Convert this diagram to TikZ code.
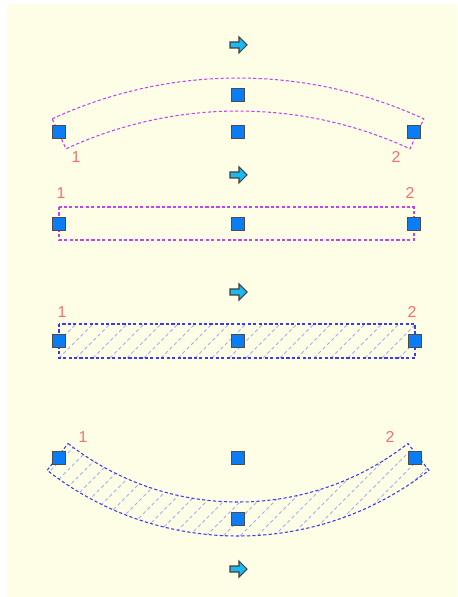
\documentclass[tikz,border=0pt]{standalone}
\usepackage{fontspec}
\setsansfont{Liberation Sans}
\definecolor{paper}{HTML}{FEFEE6}
\definecolor{gripblue}{HTML}{0A7CF5}
\definecolor{arrowcyan}{HTML}{1CB8F0}
\definecolor{lilac}{HTML}{C044F4}
\definecolor{wireblue}{HTML}{3A3AF0}
\definecolor{hatchblue}{HTML}{9CB0F4}
\definecolor{tagred}{HTML}{F47070}
\tikzset{
  grip/.style={draw=black!70, fill=gripblue, line width=0.7pt, minimum size=0.26cm, inner sep=0pt},
  outline/.style={line width=0.6pt, dash pattern=on 1.8pt off 1.3pt},
  hatchline/.style={hatchblue, line width=0.5pt, dash pattern=on 2pt off 1.5pt},
  tag/.style={text=tagred, font=\sffamily\fontsize{9}{9}\selectfont, inner sep=0pt},
  movearrow/.pic={\draw[draw=black!75, fill=arrowcyan, line width=0.6pt, line join=miter]
    (-8,-3) -- (1,-3) -- (1,-8) -- (9,0) -- (1,8) -- (1,3) -- (-8,3) -- cycle;}
}
\begin{document}
\begin{tikzpicture}[x=0.02cm, y=-0.02cm]
    \useasboundingbox (0,0) rectangle (457,597);
    \fill[white] (0,0) rectangle (457,597);
    \fill[paper] (7,4) rectangle (457,597);
    % curved up
    \coordinate (c1) at (238,521);
    \draw[outline, lilac] (c1) ++(245.2:443) arc[start angle=245.2, end angle=294.8, radius=443]
      -- ++(114.8:33) arc[start angle=294.8, end angle=245.2, radius=410] -- cycle;
    \node[tag] (t1l) at (76,157) {1};
    \node[tag] (t1r) at (396,157) {2};
    % straight
    \draw[outline, lilac] (59,207) rectangle (414,240);
    \node[tag] (t2l) at (61,193) {1};
    \node[tag] (t2r) at (410,193) {2};
    % straight, hatched
    \begin{scope}
      \clip (59,324) rectangle (415,358);
      \foreach \x in {25,42,...,425}
        \draw[hatchline] (\x,358) -- ++(34,-34);
    \end{scope}
    \draw[outline, wireblue] (59,324) rectangle (415,358);
    \node[tag] (t3l) at (62,312) {1};
    \node[tag] (t3r) at (412,312) {2};
    % curved down, hatched
    \coordinate (c4) at (238,226);
    \begin{scope}
      \clip (c4) ++(128:276) arc[start angle=128, end angle=52, radius=276]
        -- ++(52:34) arc[start angle=52, end angle=128, radius=310] -- cycle;
      \foreach \x in {-70,-53,...,440}
        \draw[hatchline] (\x,540) -- ++(100,-100);
    \end{scope}
    \draw[outline, wireblue] (c4) ++(128:276) arc[start angle=128, end angle=52, radius=276]
      -- ++(52:34) arc[start angle=52, end angle=128, radius=310] -- cycle;
    \node[tag] (t4l) at (83,437) {1};
    \node[tag] (t4r) at (390,437) {2};
    % grips
    \node[grip] (g1t) at (238,95) {};
    \node[grip] (g1l) at (59,132) {};
    \node[grip] (g1m) at (238,132) {};
    \node[grip] (g1r) at (414,132) {};
    \node[grip] (g2l) at (59,224) {};
    \node[grip] (g2m) at (238,224) {};
    \node[grip] (g2r) at (414,224) {};
    \node[grip] (g3l) at (59,341) {};
    \node[grip] (g3m) at (238,341) {};
    \node[grip] (g3r) at (415,341) {};
    \node[grip] (g4l) at (59,458) {};
    \node[grip] (g4m) at (238,458) {};
    \node[grip] (g4r) at (415,458) {};
    \node[grip] (g4b) at (238,519) {};
    % arrows
    \pic (a1) at (238,45) {movearrow};
    \pic (a2) at (238,175) {movearrow};
    \pic (a3) at (238,292) {movearrow};
    \pic (a4) at (238,569) {movearrow};
\end{tikzpicture}
\end{document}
